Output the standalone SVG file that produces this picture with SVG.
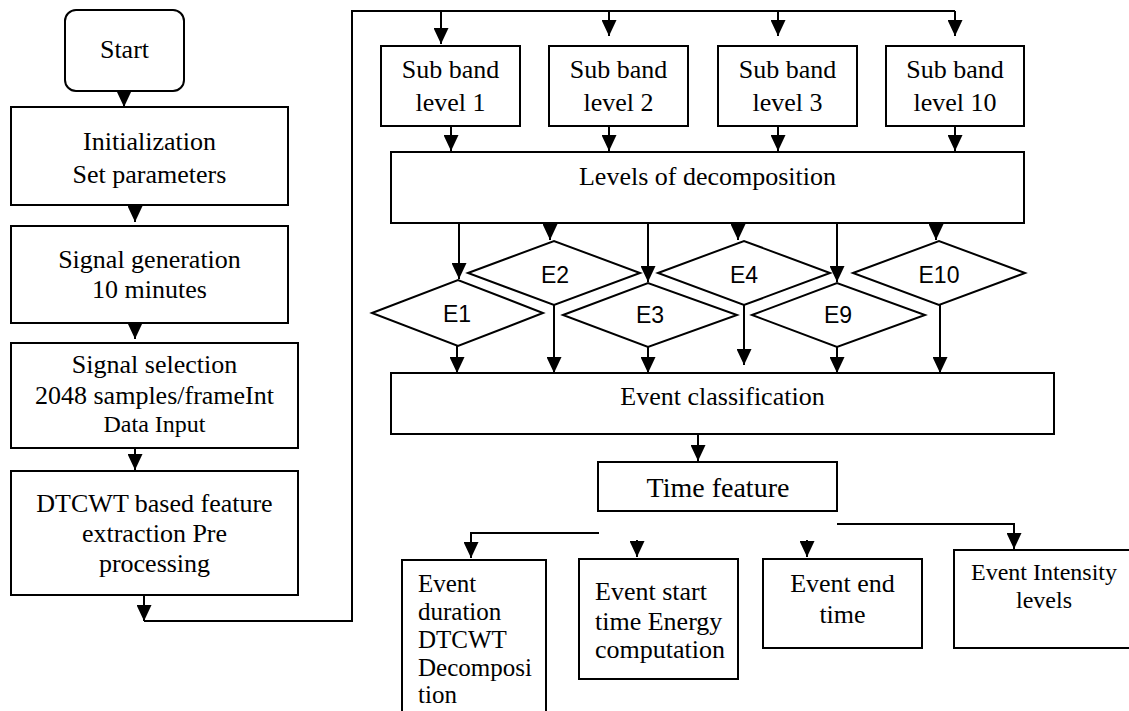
<svg xmlns="http://www.w3.org/2000/svg" width="1129" height="711" viewBox="0 0 1129 711">
<style>
.box{fill:#fff;stroke:#000;stroke-width:2}
.dia{fill:#fff;stroke:#000;stroke-width:2}
.ln{fill:none;stroke:#000;stroke-width:2}
.t{font-family:"Liberation Serif","Times New Roman",serif;font-size:26px;fill:#000;text-anchor:middle}
.tl{font-family:"Liberation Serif","Times New Roman",serif;font-size:26px;fill:#000}
.e{font-family:"Liberation Sans",Arial,sans-serif;font-size:23px;fill:#000;text-anchor:middle}
</style>
<defs>
<marker id="ah" markerUnits="userSpaceOnUse" markerWidth="16" markerHeight="15" viewBox="0 0 16 15" refX="16" refY="7.5" orient="auto">
<path d="M0,0 L16,7.5 L0,15 z" fill="#000"/>
</marker>
</defs>
<rect width="1129" height="711" fill="#fff"/>

<g id="connectors">
<line class="ln" x1="124" y1="91" x2="124" y2="107" marker-end="url(#ah)"/>
<line class="ln" x1="135" y1="205" x2="135" y2="222" marker-end="url(#ah)"/>
<line class="ln" x1="135" y1="323" x2="135" y2="339" marker-end="url(#ah)"/>
<line class="ln" x1="135" y1="448" x2="135" y2="470" marker-end="url(#ah)"/>
<line class="ln" x1="144" y1="595" x2="144" y2="621" marker-end="url(#ah)"/>
<polyline class="ln" points="144,621 352,621 352,11 955,11"/>
<line class="ln" x1="441" y1="11" x2="441" y2="44" marker-end="url(#ah)"/>
<line class="ln" x1="609" y1="11" x2="609" y2="36" marker-end="url(#ah)"/>
<line class="ln" x1="778" y1="11" x2="778" y2="36" marker-end="url(#ah)"/>
<line class="ln" x1="955" y1="11" x2="955" y2="36" marker-end="url(#ah)"/>
<line class="ln" x1="451" y1="126" x2="451" y2="151" marker-end="url(#ah)"/>
<line class="ln" x1="609" y1="126" x2="609" y2="151" marker-end="url(#ah)"/>
<line class="ln" x1="778" y1="126" x2="778" y2="151" marker-end="url(#ah)"/>
<line class="ln" x1="955" y1="126" x2="955" y2="151" marker-end="url(#ah)"/>
<line class="ln" x1="459" y1="223" x2="459" y2="279" marker-end="url(#ah)"/>
<line class="ln" x1="550" y1="223" x2="550" y2="240" marker-end="url(#ah)"/>
<line class="ln" x1="648" y1="223" x2="648" y2="282" marker-end="url(#ah)"/>
<line class="ln" x1="738" y1="223" x2="738" y2="240" marker-end="url(#ah)"/>
<line class="ln" x1="837" y1="223" x2="837" y2="282" marker-end="url(#ah)"/>
<line class="ln" x1="936" y1="223" x2="936" y2="240" marker-end="url(#ah)"/>
<line class="ln" x1="457" y1="346" x2="457" y2="373" marker-end="url(#ah)"/>
<line class="ln" x1="554" y1="305" x2="554" y2="373" marker-end="url(#ah)"/>
<line class="ln" x1="648" y1="347" x2="648" y2="373" marker-end="url(#ah)"/>
<line class="ln" x1="744" y1="305" x2="744" y2="365" marker-end="url(#ah)"/>
<line class="ln" x1="837" y1="347" x2="837" y2="373" marker-end="url(#ah)"/>
<line class="ln" x1="940" y1="305" x2="940" y2="373" marker-end="url(#ah)"/>
<line class="ln" x1="698" y1="434" x2="698" y2="461" marker-end="url(#ah)"/>
<polyline class="ln" points="599,533 471,533 471,558" marker-end="url(#ah)"/>
<line class="ln" x1="637" y1="540" x2="637" y2="557" marker-end="url(#ah)"/>
<line class="ln" x1="807" y1="540" x2="807" y2="557" marker-end="url(#ah)"/>
<polyline class="ln" points="837,524 1014,524 1014,549" marker-end="url(#ah)"/>
</g>

<g id="start">
<rect class="box" x="65" y="10" width="119" height="81" rx="11"/>
<text class="t" x="124.5" y="58">Start</text>
</g>
<g id="init">
<rect class="box" x="11" y="107" width="277" height="98"/>
<text class="t" x="149.5" y="150">Initialization</text>
<text class="t" x="149.5" y="183">Set parameters</text>
</g>
<g id="siggen">
<rect class="box" x="11" y="226" width="277" height="97"/>
<text class="t" x="149.5" y="268">Signal generation</text>
<text class="t" x="149.5" y="298">10 minutes</text>
</g>
<g id="sigsel">
<rect class="box" x="11" y="343" width="287" height="105"/>
<text class="t" x="154.5" y="373">Signal selection</text>
<text class="t" x="154.5" y="404">2048 samples/frameInt</text>
<text class="t" x="154.5" y="432" style="font-size:24px">Data Input</text>
</g>
<g id="dtcwt">
<rect class="box" x="11" y="471" width="287" height="124"/>
<text class="t" x="154.5" y="512">DTCWT based feature</text>
<text class="t" x="154.5" y="542">extraction Pre</text>
<text class="t" x="154.5" y="572">processing</text>
</g>

<g id="sb1">
<rect class="box" x="381" y="46" width="139" height="80"/>
<text class="t" x="450.5" y="78">Sub band</text>
<text class="t" x="450.5" y="111">level 1</text>
</g>
<g id="sb2">
<rect class="box" x="549" y="46" width="139" height="80"/>
<text class="t" x="618.5" y="78">Sub band</text>
<text class="t" x="618.5" y="111">level 2</text>
</g>
<g id="sb3">
<rect class="box" x="718" y="46" width="139" height="80"/>
<text class="t" x="787.5" y="78">Sub band</text>
<text class="t" x="787.5" y="111">level 3</text>
</g>
<g id="sb10">
<rect class="box" x="886" y="46" width="138" height="80"/>
<text class="t" x="955" y="78">Sub band</text>
<text class="t" x="955" y="111">level 10</text>
</g>

<g id="levels">
<rect class="box" x="391" y="152" width="633" height="71"/>
<text class="t" x="707.5" y="185">Levels of decomposition</text>
</g>

<g id="e2">
<polygon class="dia" points="468,273 554,241 640,273 554,305"/>
<text class="e" x="555" y="283">E2</text>
</g>
<g id="e4">
<polygon class="dia" points="658,273 744,241 830,273 744,305"/>
<text class="e" x="744" y="283">E4</text>
</g>
<g id="e10">
<polygon class="dia" points="853,273 939,241 1025,273 939,305"/>
<text class="e" x="939" y="283">E10</text>
</g>
<g id="e1">
<polygon class="dia" points="372,313 458,280 543,313 458,346"/>
<text class="e" x="457" y="322">E1</text>
</g>
<g id="e3">
<polygon class="dia" points="563,315 648,283 737,315 648,347"/>
<text class="e" x="650" y="323">E3</text>
</g>
<g id="e9">
<polygon class="dia" points="752,315 837,283 925,315 837,347"/>
<text class="e" x="838" y="323">E9</text>
</g>

<g id="eventclass">
<rect class="box" x="391" y="373" width="663" height="61"/>
<text class="t" x="722.5" y="405">Event classification</text>
</g>
<g id="timefeature">
<rect class="box" x="598" y="462" width="239" height="49"/>
<text class="t" x="718" y="497" style="font-size:28px">Time feature</text>
</g>

<g id="duration">
<rect class="box" x="402" y="560" width="144" height="170"/>
<text class="tl" x="418" y="592" style="font-size:25px">Event</text>
<text class="tl" x="418" y="620" style="font-size:25px">duration</text>
<text class="tl" x="418" y="648" style="font-size:25px">DTCWT</text>
<text class="tl" x="418" y="676" style="font-size:25px">Decomposi</text>
<text class="tl" x="418" y="703" style="font-size:25px">tion</text>
</g>
<g id="starttime">
<rect class="box" x="579" y="559" width="159" height="120"/>
<text class="tl" x="595" y="600">Event start</text>
<text class="tl" x="595" y="630">time Energy</text>
<text class="tl" x="595" y="658">computation</text>
</g>
<g id="endtime">
<rect class="box" x="763" y="559" width="159" height="89"/>
<text class="t" x="842.5" y="592">Event end</text>
<text class="t" x="842.5" y="623">time</text>
</g>
<g id="intensity">
<rect class="box" x="954" y="550" width="185" height="98"/>
<text class="t" x="1044" y="580" style="font-size:24px">Event Intensity</text>
<text class="t" x="1044" y="608" style="font-size:24px">levels</text>
</g>
</svg>
